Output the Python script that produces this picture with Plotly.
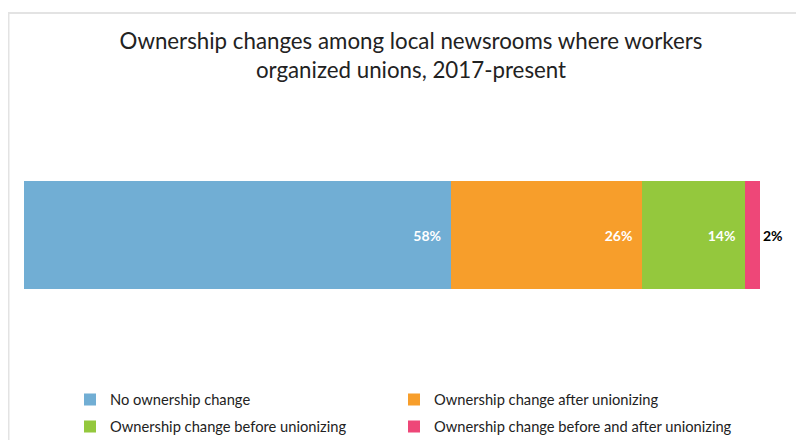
import plotly.graph_objects as go

categories = ["No ownership change", "Ownership change after unionizing",
              "Ownership change before unionizing", "Ownership change before and after unionizing"]
values = [58, 26, 14, 2]
labels = ["58%", "26%", "14%", "2%"]
colors = ["#71AED4", "#F79E2B", "#94C83D", "#EE4778"]
title = "Ownership changes among local newsrooms where workers<br>organized unions, 2017-present"

# The page body has an 8px margin, so the figure is drawn 8px in from the window edge.
OFF = 8
W, H = 804 - OFF, 440 - OFF
L, R = 24 - OFF, 44
pw = W - L - R
BAND_TOP, BAND_BOT = 160 - OFF, 310 - OFF  # plot band (figure pixels)

def px(page_x):
    return (page_x - OFF - L) / pw

def py(page_y):
    return (H - (page_y - OFF)) / H

legend_ids = ["legend", "legend2", "legend3", "legend4"]
legend_pos = [(70, 400), (394, 400), (70, 427), (394, 427)]  # page pixels

fig = go.Figure()
for i, (c, v, lab, col) in enumerate(zip(categories, values, labels, colors)):
    last = i == len(categories) - 1
    fig.add_trace(go.Bar(
        y=[""], x=[v], name=c, orientation="h",
        marker=dict(color=col, line=dict(width=0)),
        text=[lab],
        texttemplate="%{text}" if last else "%{text}\u00a0\u00a0",
        textposition="outside" if last else "inside",
        insidetextanchor="end",
        textfont=dict(family="Lato", size=14, color="black" if last else "white", weight="bold"),
        cliponaxis=False,
        hoverinfo="skip",
        legend=legend_ids[i],
    ))

legend_common = dict(orientation="h", xanchor="left", yanchor="middle",
                     font=dict(family="Lato", size=14.7, color="#222"), itemclick=False,
                     bgcolor="rgba(0,0,0,0)")

layout_legends = {lid: dict(x=px(lx), y=py(ly), **legend_common)
                  for lid, (lx, ly) in zip(legend_ids, legend_pos)}

fig.update_layout(
    width=W, height=H,
    barmode="stack", bargap=0.28,
    margin=dict(l=L, r=R, t=0, b=0, autoexpand=False),
    paper_bgcolor="white", plot_bgcolor="white",
    font=dict(family="Lato", size=14, color="#222"),
    title=dict(text=title, x=(411 - OFF) / W, xanchor="center", y=1 - 41 / H, yanchor="middle",
               font=dict(family="Lato", size=22.3, color="#222")),
    xaxis=dict(range=[0, 100], visible=False, fixedrange=True),
    yaxis=dict(visible=False, fixedrange=True,
               domain=[(H - BAND_BOT) / H, (H - BAND_TOP) / H]),
    showlegend=True,
    shapes=[dict(type="rect", xref="paper", yref="paper",
                 x0=px(OFF + 0.5), x1=px(W + OFF + 10), y0=py(H + OFF + 10), y1=py(13),
                 line=dict(color="#E3E3E3", width=2), fillcolor="rgba(0,0,0,0)", layer="below")],
    **layout_legends,
)

fig.write_html("out.html")
